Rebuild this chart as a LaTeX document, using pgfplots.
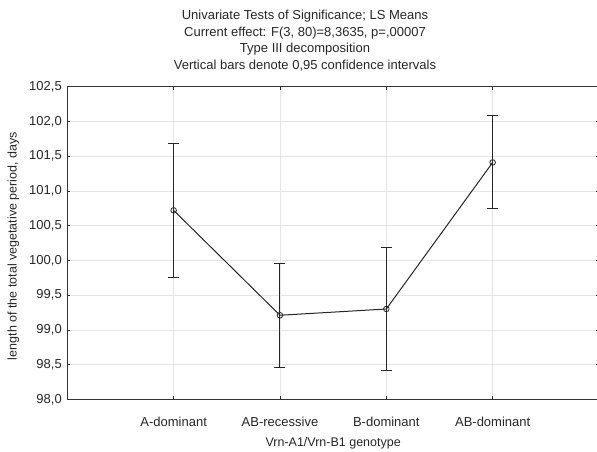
\documentclass[border=0pt]{standalone}
\usepackage{pgfplots}
\pgfplotsset{compat=1.18}
\usepackage{fontspec}
\setmainfont{Liberation Sans}
\begin{document}
\fontsize{13}{16}\selectfont
\begin{tikzpicture}
\useasboundingbox (0,0) rectangle (597pt,451pt);
\node[align=center, font=\fontsize{13}{16.5}\selectfont, text=black!85] at (305pt,410.3pt)
  {Univariate Tests of Significance; LS Means\\Current effect: F(3, 80)=8,3635, p=,00007\\Type III decomposition\\Vertical bars denote 0,95 confidence intervals};
\begin{axis}[
  at={(67.3pt,51.7pt)}, anchor=south west, scale only axis,
  width=531.7pt, height=312.6pt,
  xmin=-1, xmax=4, ymin=98, ymax=102.5,
  xtick={0,1,2,3},
  xticklabels={A-dominant,AB-recessive,B-dominant,AB-dominant},
  ytick={98,98.5,99,99.5,100,100.5,101,101.5,102,102.5},
  y tick label style={xshift=-1pt, /pgf/number format/fixed, /pgf/number format/fixed zerofill, /pgf/number format/precision=1, /pgf/number format/use comma, /pgf/number format/assume math mode=true},
  tick label style={font=\fontsize{13}{15}\selectfont, text=black!85},
  xticklabel style={anchor=base, yshift=-27.5pt},
  grid=major, grid style={color=black!10, line width=0.6pt},
  tick align=inside, major tick length=3pt, tick style={black!85, line width=0.6pt},
  axis line style={line width=0.9pt, black!80},
  xlabel={Vrn-A1/Vrn-B1 genotype},
  ylabel={length of the total vegetative period, days},
  label style={font=\fontsize{12.5}{15}\selectfont, text=black!85},
  xlabel style={at={(axis description cs:0.5,-0.14)}, anchor=center},
  ylabel style={at={(axis description cs:-0.1016,0.49)}, anchor=center},
]
\addplot[black!85, line width=1pt, mark=o, mark size=2.8pt,
  mark options={line width=0.8pt},
  error bars/.cd, y dir=both, y explicit,
  error bar style={line width=1pt, black!85},
  error mark options={rotate=90, mark size=5.5pt, line width=1pt, black!85}]
coordinates {
  (0,100.72) +- (0,0.96)
  (1,99.21) +- (0,0.75)
  (2,99.30) +- (0,0.89)
  (3,101.41) +- (0,0.67)
};
\end{axis}
\end{tikzpicture}
\end{document}
